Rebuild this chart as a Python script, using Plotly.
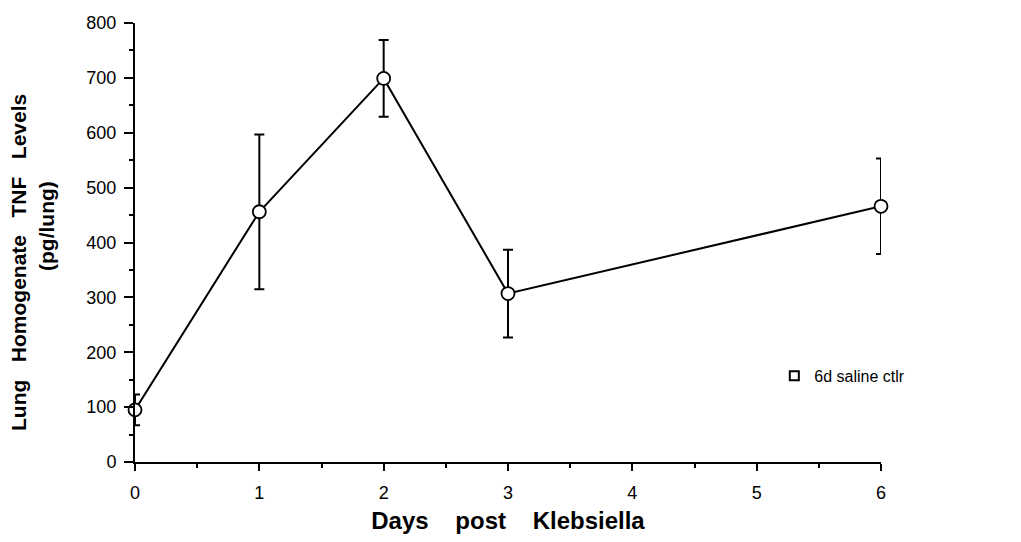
import plotly.graph_objects as go

days = [0, 1, 2, 3, 6]
tnf = [95, 456, 699, 307, 466]
tnf_err = [28, 141, 70, 80, 87]
x_ticks = [0, 1, 2, 3, 4, 5, 6]
y_ticks = [0, 100, 200, 300, 400, 500, 600, 700, 800]
legend_name = "6d saline ctlr"
y_title_main = "Lung   Homogenate   TNF   Levels"
y_title_unit = "(pg/lung)"
x_title = "Days    post    Klebsiella"

FONT = "Liberation Sans, Arial, sans-serif"

fig = go.Figure()
fig.add_trace(go.Scatter(
    x=days, y=tnf,
    mode="lines+markers",
    cliponaxis=False,
    line=dict(color="black", width=2),
    marker=dict(symbol="circle", size=13, color="white",
                line=dict(color="black", width=1.8)),
    error_y=dict(type="data", array=tnf_err, visible=True,
                 color="black", thickness=2, width=5),
    showlegend=False,
))
fig.add_trace(go.Scatter(
    x=[None], y=[None], mode="markers", name=legend_name,
    marker=dict(symbol="square-open", size=9, color="black",
                line=dict(color="black", width=2)),
))

fig.update_layout(
    width=1021, height=542,
    margin=dict(l=135, r=140, t=23, b=80),
    paper_bgcolor="white", plot_bgcolor="white",
    font=dict(family=FONT, color="black", size=18),
    legend=dict(x=0.857, y=0.196, xanchor="left", yanchor="middle",
                bgcolor="rgba(0,0,0,0)", font=dict(size=16, family=FONT),
                itemwidth=30),
    annotations=[
        dict(text="<b>" + y_title_main + "</b>", xref="paper", yref="paper",
             x=-0.1555, y=0.4556, xanchor="center", yanchor="middle",
             textangle=-90, showarrow=False, font=dict(size=21, family=FONT)),
        dict(text="<b>" + y_title_unit + "</b>", xref="paper", yref="paper",
             x=-0.118, y=0.5376, xanchor="center", yanchor="middle",
             textangle=-90, showarrow=False, font=dict(size=21, family=FONT)),
    ],
)
fig.update_xaxes(
    range=[0, 6], tickvals=x_ticks, ticktext=[str(v) for v in x_ticks],
    showline=True, linecolor="black", linewidth=2,
    ticks="outside", ticklen=7, tickwidth=2, tickcolor="black",
    minor=dict(dtick=0.5, ticks="outside", ticklen=4, tickwidth=2, tickcolor="black"),
    showgrid=False, zeroline=False,
    ticklabelstandoff=6,
    tickfont=dict(size=18, family=FONT),
    title=dict(text="<b>" + x_title + "</b>", font=dict(size=24, family=FONT), standoff=11),
)
fig.update_yaxes(
    range=[0, 800], tickvals=y_ticks, ticktext=[str(v) for v in y_ticks],
    showline=True, linecolor="black", linewidth=2,
    ticks="outside", ticklen=9, tickwidth=2, tickcolor="black",
    minor=dict(dtick=50, ticks="outside", ticklen=4, tickwidth=1.5, tickcolor="black"),
    showgrid=False, zeroline=False,
    ticklabelstandoff=4,
    tickfont=dict(size=18, family=FONT),
)

fig.write_html("out.html")
